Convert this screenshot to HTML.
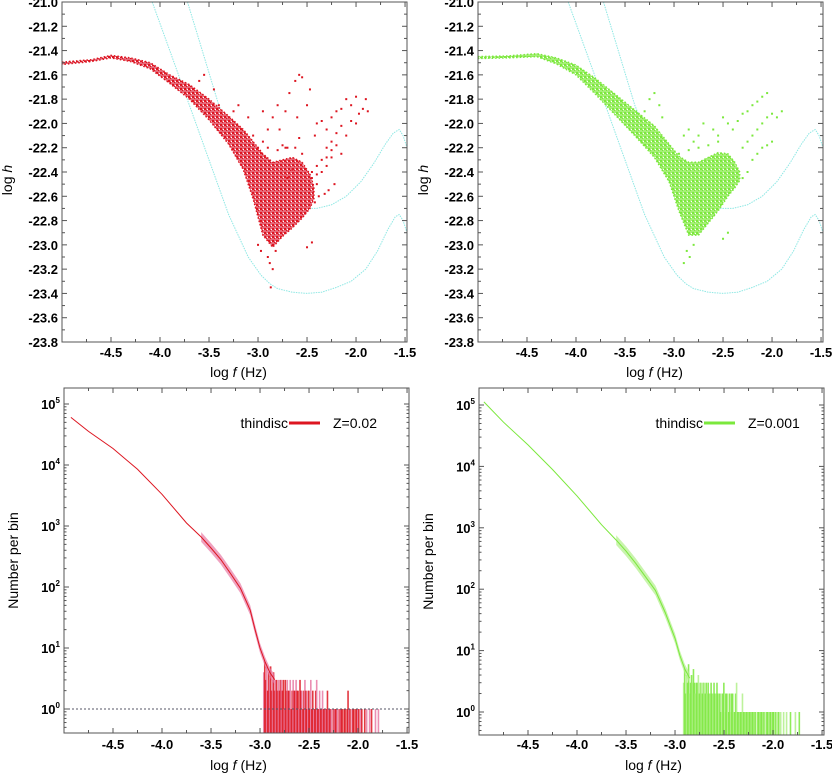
<!DOCTYPE html>
<html><head><meta charset="utf-8">
<style>
html,body{margin:0;padding:0;background:#fff;}
svg{display:block;font-family:"Liberation Sans",sans-serif;}
.tl{font-weight:bold;font-size:13px;fill:#000;}
.tt{font-size:14px;fill:#000;}
</style></head>
<body>
<svg id="c" width="832" height="776" viewBox="0 0 832 776" xmlns="http://www.w3.org/2000/svg"></svg>
<script>
// ---------- data ----------
const xTicks=[-4.5,-4.0,-3.5,-3.0,-2.5,-2.0,-1.5];
const xTickLabels=["-4.5","-4.0","-3.5","-3.0","-2.5","-2.0","-1.5"];
const hTicks=[-21.0,-21.2,-21.4,-21.6,-21.8,-22.0,-22.2,-22.4,-22.6,-22.8,-23.0,-23.2,-23.4,-23.6,-23.8];
const hTickLabels=["-21.0","-21.2","-21.4","-21.6","-21.8","-22.0","-22.2","-22.4","-22.6","-22.8","-23.0","-23.2","-23.4","-23.6","-23.8"];
const nDecades=[0,1,2,3,4,5];
// sensitivity curves (cyan)
const curveAx=[-4.08,-3.9,-3.7,-3.5,-3.3,-3.1,-2.97,-2.88,-2.8,-2.65,-2.5,-2.35,-2.2,-2.05,-1.9,-1.78,-1.68,-1.6,-1.56,-1.52,-1.48];
const curveAy=[-21.0,-21.4,-21.85,-22.3,-22.75,-23.1,-23.25,-23.32,-23.36,-23.39,-23.4,-23.39,-23.35,-23.3,-23.2,-23.05,-22.88,-22.77,-22.75,-22.8,-22.9];
const curveBx=[-3.72,-3.55,-3.4,-3.25,-3.1,-3.0,-2.9,-2.75,-2.55,-2.4,-2.25,-2.1,-1.95,-1.82,-1.7,-1.62,-1.56,-1.52,-1.48];
const curveBy=[-21.0,-21.45,-21.85,-22.15,-22.4,-22.55,-22.62,-22.68,-22.7,-22.7,-22.67,-22.6,-22.48,-22.33,-22.17,-22.08,-22.05,-22.1,-22.2];
// Z=0.02 dense region envelope
const envRedX=[-5.0,-4.7,-4.5,-4.3,-4.1,-3.9,-3.7,-3.5,-3.3,-3.15,-3.05,-2.95,-2.85,-2.75,-2.65,-2.55,-2.47,-2.43];
const envRedTop=[-21.495,-21.475,-21.44,-21.46,-21.5,-21.6,-21.68,-21.8,-21.94,-22.05,-22.15,-22.25,-22.32,-22.3,-22.28,-22.32,-22.42,-22.52];
const envRedBot=[-21.515,-21.49,-21.46,-21.49,-21.55,-21.67,-21.8,-21.97,-22.17,-22.38,-22.62,-22.92,-23.02,-22.93,-22.86,-22.78,-22.7,-22.62];
// Z=0.02 sparse points
const ptsRedX=[-3.6,-3.55,-3.45,-3.4,-3.3,-3.25,-3.2,-3.1,-3.05,-2.95,-2.9,-2.85,-2.8,-2.78,-2.72,-2.68,-2.62,-2.58,-2.55,-2.6,-2.5,-2.47,-2.42,-2.4,-2.35,-2.3,-2.25,-2.2,-2.15,-2.1,-2.05,-2.0,-1.97,-1.93,-1.9,-1.88,-2.3,-2.25,-2.2,-2.15,-2.1,-2.05,-2.0,-2.4,-2.35,-2.3,-2.25,-2.2,-2.15,-2.45,-2.4,-2.35,-2.3,-2.25,-2.42,-2.38,-2.32,-2.28,-2.22,-2.9,-2.88,-2.85,-2.82,-2.87,-2.5,-2.45,-2.7,-2.65,-2.72,-2.58,-3.0,-2.95,-2.9,-2.8,-2.75,-2.7,-2.62,-2.55,-3.0,-2.97,-2.45,-2.4];
const ptsRedY=[-21.65,-21.6,-21.72,-21.85,-21.95,-21.9,-21.85,-21.95,-22.1,-21.9,-22.05,-21.95,-21.85,-22.05,-21.9,-21.75,-21.65,-21.6,-21.62,-21.95,-21.85,-21.72,-22.1,-22.0,-21.98,-22.05,-21.95,-21.9,-21.88,-21.8,-21.85,-21.78,-21.92,-21.88,-21.8,-21.9,-22.2,-22.15,-22.08,-22.02,-22.1,-21.98,-22.0,-22.35,-22.3,-22.28,-22.22,-22.18,-22.25,-22.45,-22.42,-22.4,-22.35,-22.28,-22.65,-22.6,-22.58,-22.55,-22.5,-23.1,-23.15,-23.2,-23.05,-23.35,-23.02,-22.98,-22.45,-22.38,-22.2,-22.12,-22.2,-22.15,-22.2,-22.22,-22.18,-22.2,-22.2,-22.25,-23.0,-23.05,-22.4,-22.5];
// Z=0.001 dense region envelope
const envGrnX=[-5.0,-4.7,-4.4,-4.2,-4.0,-3.8,-3.6,-3.4,-3.2,-3.05,-2.95,-2.85,-2.75,-2.65,-2.55,-2.45,-2.38,-2.33];
const envGrnTop=[-21.45,-21.445,-21.425,-21.46,-21.52,-21.63,-21.76,-21.89,-22.02,-22.17,-22.27,-22.32,-22.32,-22.28,-22.24,-22.25,-22.32,-22.4];
const envGrnBot=[-21.465,-21.46,-21.45,-21.51,-21.6,-21.76,-21.93,-22.1,-22.28,-22.48,-22.72,-22.92,-22.92,-22.82,-22.72,-22.6,-22.53,-22.47];
// Z=0.001 sparse points
const ptsGrnX=[-3.2,-3.15,-3.12,-3.25,-3.3,-2.9,-2.85,-2.8,-2.75,-2.7,-2.6,-2.55,-2.5,-2.45,-2.4,-2.35,-2.3,-2.25,-2.2,-2.15,-2.1,-2.05,-2.3,-2.25,-2.2,-2.15,-2.1,-2.05,-2.0,-1.95,-1.9,-2.2,-2.15,-2.1,-2.05,-2.0,-2.3,-2.25,-2.87,-2.84,-2.8,-2.9,-2.5,-2.45,-2.95,-2.85,-2.75,-2.65,-2.55];
const ptsGrnY=[-21.75,-21.85,-21.95,-21.8,-21.9,-22.1,-22.05,-22.15,-22.1,-22.0,-22.05,-22.1,-21.95,-22.0,-22.05,-21.98,-21.92,-21.9,-21.85,-21.82,-21.78,-21.75,-22.2,-22.15,-22.1,-22.05,-22.0,-21.95,-21.92,-21.95,-21.9,-22.3,-22.25,-22.2,-22.18,-22.15,-22.45,-22.4,-23.05,-23.1,-23.0,-23.15,-22.95,-22.9,-22.25,-22.22,-22.2,-22.18,-22.15];
// histograms: smooth part (log10 count)
const histRedX=[-4.93,-4.75,-4.5,-4.25,-4.0,-3.75,-3.6,-3.5,-3.4,-3.3,-3.2,-3.1,-3.05,-3.0,-2.95,-2.9,-2.85];
const histRedLog=[4.78,4.55,4.27,3.93,3.52,3.05,2.82,2.64,2.45,2.22,1.98,1.62,1.3,1.0,0.78,0.6,0.48];
const histGrnX=[-4.95,-4.75,-4.5,-4.25,-4.0,-3.75,-3.6,-3.5,-3.4,-3.3,-3.2,-3.1,-3.0,-2.95,-2.9,-2.85];
const histGrnLog=[5.05,4.72,4.35,3.95,3.52,3.05,2.8,2.62,2.42,2.2,1.98,1.62,1.2,0.92,0.7,0.55];
// histogram tails: counts per 0.01 bin
const tailRedStart=-2.97;
const tailRedCounts=[4,6,3,5,2,4,3,5,2,3,4,2,3,3,2,3,2,3,3,2,3,1,3,2,3,2,2,3,1,2,3,2,2,3,2,2,1,3,2,2,1,2,3,2,1,2,2,1,3,1,2,1,1,2,3,1,1,2,1,1,2,1,1,1,1,2,1,1,1,1,0,1,1,1,1,1,0,1,1,1,1,0,1,1,0,1,2,1,1,0,1,1,1,0,1,1,1,1,0,1,1,0,0,1,0,1,0,0,1,0,1,0,0,0,1,0,0,1];
const tailGrnStart=-2.92;
const tailGrnCounts=[3,5,2,4,3,6,2,3,4,3,5,3,2,3,3,4,2,3,3,2,3,3,2,3,2,3,2,2,3,2,2,3,2,2,3,2,2,2,1,2,2,3,1,2,2,2,1,2,1,2,2,1,1,2,3,1,1,1,1,1,2,1,1,1,1,1,1,1,1,1,1,1,1,1,0,1,1,1,1,1,1,1,1,0,1,1,1,0,1,1,1,1,1,0,1,0,1,1,0,1,0,0,1,0,0,1,0,0,0,1,0,0,0,0,1,0,0,0,1,0,0];

// ---------- drawing ----------
const NS="http://www.w3.org/2000/svg";
const svg=document.getElementById('c');
function el(tag,attrs,parent){const e=document.createElementNS(NS,tag);for(const k in attrs)e.setAttribute(k,attrs[k]);(parent||svg).appendChild(e);return e;}
function lin(d0,d1,p0,p1){return v=>p0+(v-d0)/(d1-d0)*(p1-p0);}

const defs=el('defs',{});
function mkPattern(id,col,col2){
  const p=el('pattern',{id:id,width:4,height:4,patternUnits:'userSpaceOnUse'},defs);
  el('rect',{x:0,y:0,width:4,height:4,fill:col2},p);
  el('rect',{x:0,y:0,width:2,height:2,fill:col},p);
  el('rect',{x:2,y:2,width:1,height:1,fill:col},p);
  el('rect',{x:3,y:1,width:1,height:1,fill:'#fff'},p);
}
mkPattern('redfill','#dd1520','#e66a7a');
mkPattern('grnfill','#7be83c','#a6ef78');

function frame(g,x0,x1,y0,y1,name){
  const f=el('rect',{x:x0,y:y0,width:x1-x0,height:y1-y0,fill:'none',stroke:'#555',"stroke-width":1},g);
  
  
}

function xAxis(g,sx,yb,yt,labelY,titleY,cx){
  for(let v=-5;v<=-1.45;v+=0.25){
    const x=sx(v);const major=Math.abs(v*2-Math.round(v*2))<1e-6;
    el('line',{x1:x,x2:x,y1:yb,y2:yb-(major?5:3),stroke:'#555'},g);
    el('line',{x1:x,x2:x,y1:yt,y2:yt+(major?5:3),stroke:'#555'},g);
  }
  xTicks.forEach((v,i)=>{
    const t=el('text',{x:sx(v),y:labelY,class:'tl','text-anchor':'middle'},g);
    t.textContent=xTickLabels[i];
    
    
  });
  const t=el('text',{x:cx,y:titleY,class:'tt','text-anchor':'middle'},g);
  t.innerHTML='log <tspan font-style="italic">f</tspan> (Hz)';
  
  
}

function path(sx,sy,xs,ys){return xs.map((x,i)=>(i?'L':'M')+sx(x).toFixed(1)+','+sy(ys[i]).toFixed(1)).join('');}

function topPanel(x0,x1,env,ptsX,ptsY,fill,dot,name){
  const g=el('g',{});
  
  
  const y0=2,y1=342;
  const sx=lin(-5,-1.48,x0,x1), sy=lin(-21,-23.8,y0,y1);
  const clip='clip'+name;
  const cp=el('clipPath',{id:clip},defs);el('rect',{x:x0,y:y0,width:x1-x0,height:y1-y0},cp);
  const pg=el('g',{'clip-path':'url(#'+clip+')'},g);
  const ca=el('path',{d:path(sx,sy,curveAx,curveAy),fill:'none',stroke:'#8ee8e4','stroke-width':1,'stroke-dasharray':'1.5 1'},pg);
  
  
  const cb=el('path',{d:path(sx,sy,curveBx,curveBy),fill:'none',stroke:'#8ee8e4','stroke-width':1,'stroke-dasharray':'1.5 1'},pg);
  
  
  const [ex,et,eb]=env;
  const d=path(sx,sy,ex,et)+ex.slice().reverse().map((x,i)=>'L'+sx(x).toFixed(1)+','+sy(eb[eb.length-1-i]).toFixed(1)).join('')+'Z';
  const cl=el('path',{d:d,fill:'url(#'+fill+')',stroke:dot,'stroke-width':1.5,'stroke-dasharray':'1.5 2'},pg);
  
  
  ptsX.forEach((x,i)=>{
    const r=el('rect',{x:sx(x)-1,y:sy(ptsY[i])-1,width:2,height:2,fill:dot},pg);
    
    
  });
  frame(g,x0,x1,y0,y1,'plot-frame');
  for(let v=-21;v>=-23.8001;v-=0.1){
    const y=sy(v);const major=Math.abs(v*5-Math.round(v*5))<1e-6;
    el('line',{x1:x0,x2:x0+(major?5:3),y1:y,y2:y,stroke:'#555'},g);
    el('line',{x1:x1,x2:x1-(major?5:3),y1:y,y2:y,stroke:'#555'},g);
  }
  hTicks.forEach((v,i)=>{
    const t=el('text',{x:x0-4,y:sy(v)+5,class:'tl','text-anchor':'end'},g);
    t.textContent=hTickLabels[i];
    
    
  });
  const yt=el('text',{x:0,y:0,class:'tt','text-anchor':'middle',transform:'translate('+(x0-50)+',180) rotate(-90)'},g);
  yt.innerHTML='log <tspan font-style="italic">h</tspan>';
  
  
  xAxis(g,sx,y1,y0,357,377,(x0+x1)/2+4);
}

function bottomPanel(x0,x1,ytop,ybot,y10,dec,hx,hl,tStart,tCounts,col,pink,legendZ,dashed,name){
  const g=el('g',{});
  
  
  const sx=lin(-5,-1.48,x0,x1), sy=v=>y10-v*dec;
  const clip='clip'+name;
  const cp=el('clipPath',{id:clip},defs);el('rect',{x:x0,y:ytop,width:x1-x0,height:ybot-ytop},cp);
  const pg=el('g',{'clip-path':'url(#'+clip+')'},g);
  tCounts.forEach((c,i)=>{
    if(c<=0)return;
    const x=sx(tStart+i*0.01);
    const r=el('rect',{x:x,y:sy(Math.log10(c)),width:1.6,height:ybot-sy(Math.log10(c)),fill:(i%3===0?pink:col),opacity:0.85},pg);
    
    
  });
  // spread only in steep part
  const sxs=[], sls=[];
  hx.forEach((x,i)=>{if(x>=-3.6){sxs.push(x);sls.push(hl[i]);}});
  const band=el('path',{d:path(sx,sy,sxs,sls.map(v=>v+0.08))+sxs.slice().reverse().map((x,i)=>'L'+sx(x).toFixed(1)+','+sy(sls[sls.length-1-i]-0.08).toFixed(1)).join('')+'Z',fill:pink,opacity:0.7},pg);
  
  
  const ln=el('path',{d:path(sx,sy,hx,hl),fill:'none',stroke:col,'stroke-width':1},pg);
  
  
  if(dashed){
    const dl=el('line',{x1:x0,x2:x1,y1:sy(0),y2:sy(0),stroke:'#556','stroke-width':1,'stroke-dasharray':'2 2'},g);
    
    
  }
  frame(g,x0,x1,ytop,ybot,'plot-frame');
  for(let d=-1;d<=5;d++){
    for(let m=1;m<=9;m++){
      const v=d+Math.log10(m);const y=sy(v);
      if(y<ytop||y>ybot)continue;
      const L=m===1?5:2.5;
      el('line',{x1:x0,x2:x0+L,y1:y,y2:y,stroke:'#555'},g);
      el('line',{x1:x1,x2:x1-L,y1:y,y2:y,stroke:'#555'},g);
    }
  }
  nDecades.forEach(n=>{
    const t=el('text',{x:x0-4,y:sy(n)+5,class:'tl','text-anchor':'end'},g);
    t.innerHTML='10<tspan dy="-6" font-size="8">'+n+'</tspan>';
    
    
  });
  const yt=el('text',{x:0,y:0,class:'tt','text-anchor':'middle',transform:'translate('+(x0-46)+','+((ytop+ybot)/2)+') rotate(-90)'},g);
  yt.textContent='Number per bin';
  
  
  xAxis(g,sx,ybot,ytop,749,770,(x0+x1)/2+2);
  const lg=el('g',{},g);
  
  
  const lx=x0+172, ly=ytop+35;
  const t1=el('text',{x:lx+52,y:ly+5,class:'tt','text-anchor':'end'},lg);t1.textContent='thindisc';
  
  
  const ll=el('line',{x1:lx+53,x2:lx+84,y1:ly,y2:ly,stroke:col,'stroke-width':3},lg);
  
  
  const t2=el('text',{x:lx+97,y:ly+5,class:'tt'},lg);t2.textContent=legendZ;
  
  
}

topPanel(62,407,[envRedX,envRedTop,envRedBot],ptsRedX,ptsRedY,'redfill','#dd1520','panel-z002-strain');
topPanel(478,823,[envGrnX,envGrnTop,envGrnBot],ptsGrnX,ptsGrnY,'grnfill','#7be83c','panel-z0001-strain');
bottomPanel(64,409,388,733,709,61,histRedX,histRedLog,tailRedStart,tailRedCounts,'#dd1520','#e87aa5','Z=0.02',true,'panel-z002-histogram');
bottomPanel(479,824,388,735,712,61.4,histGrnX,histGrnLog,tailGrnStart,tailGrnCounts,'#7be83c','#b2f08a','Z=0.001',false,'panel-z0001-histogram');
</script>
</body></html>
